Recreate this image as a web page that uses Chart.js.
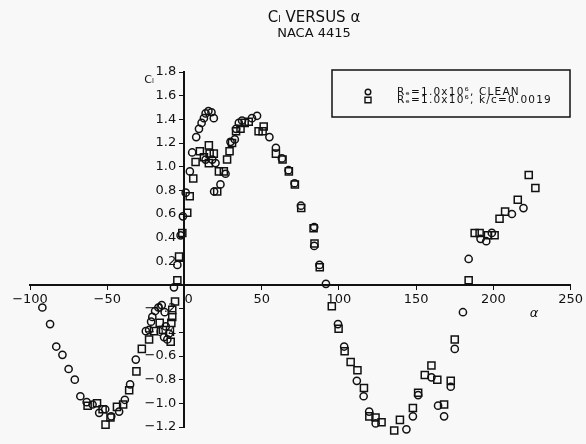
<!DOCTYPE html>
<html>
<head>
<meta charset="utf-8">
<script src="https://cdn.jsdelivr.net/npm/chart.js@4/dist/chart.umd.min.js"></script>
<style>
  html, body { margin: 0; padding: 0; background: #f8f8f8; }
  #wrap { width: 586px; height: 444px; }
</style>
</head>
<body>
<div id="wrap"><canvas id="c" width="586" height="444"></canvas></div>
<script>
// Lift coefficient vs. angle of attack, NACA 4415
const titleText = 'Cₗ VERSUS α';
const subtitleText = 'NACA 4415';
const xAxisTitle = 'α';
const yAxisTitle = 'Cₗ';
const seriesLabels = ['Rₑ=1.0x10⁶, CLEAN', 'Rₑ=1.0x10⁶, k/c=0.0019'];

const xTicks = [-100, -50, 0, 50, 100, 150, 200, 250];
const yTicks = [-1.2, -1.0, -0.8, -0.6, -0.4, -0.2, 0, 0.2, 0.4, 0.6, 0.8, 1.0, 1.2, 1.4, 1.6, 1.8];

// Clean airfoil
const cleanAlpha = [-92, -87, -83, -79, -75, -71, -67.4, -63.3, -59.5, -55.2, -51.3, -47.4, -42.3, -38.6, -35.2, -31.5,
  -25, -22.9, -21.6, -20.8, -19, -16.9, -14.7, -12.8, -12.1, -13.2, -11.1, -10, -6.8,
  -4.6, -2.5, -1, 0.8, 3.5, 5, 7.6, 9.4, 11.1, 12.6, 13.7, 15.5, 17.5, 19, 13.7, 18, 20.1, 19.2, 23.3, 26.6,
  29.8, 32.6, 33.4, 35.2, 37.3, 43.7, 47, 55, 59.2, 63.1, 67.4, 71.3, 75.4, 84, 84, 87.4, 91.6,
  99.4, 103.4, 111.6, 116, 119.6, 123.8, 127.6, 135.8, 139.5, 143.7, 143.7, 147.9, 151.3, 159.9, 164.2, 168.1, 172.4, 175,
  180.3, 184, 191.7, 195.4, 199, 212, 219.5];
const cleanCl = [-0.19, -0.33, -0.52, -0.59, -0.71, -0.80, -0.94, -0.99, -1.01, -1.08, -1.05, -1.11, -1.07, -0.97, -0.84, -0.63,
  -0.39, -0.38, -0.31, -0.27, -0.22, -0.19, -0.17, -0.23, -0.35, -0.44, -0.46, -0.41, -0.02,
  0.17, 0.42, 0.58, 0.78, 0.96, 1.12, 1.25, 1.32, 1.37, 1.41, 1.45, 1.47, 1.46, 1.41, 1.06, 1.06, 1.03, 0.79, 0.85, 0.94,
  1.21, 1.23, 1.32, 1.37, 1.39, 1.41, 1.43, 1.25, 1.16, 1.07, 0.97, 0.86, 0.67, 0.49, 0.33, 0.17, 0.01,
  -0.33, -0.52, -0.81, -0.94, -1.07, -1.17, -1.28, -1.25, -1.30, -1.22, -1.28, -1.11, -0.93, -0.78, -1.02, -1.11, -0.86, -0.54,
  -0.23, 0.22, 0.39, 0.37, 0.44, 0.60, 0.65];

// Roughened leading edge
const roughAlpha = [-62.7, -56.6, -53, -51.1, -47.9, -43.7, -39.7, -35.8, -31.1, -27.6, -22.9, -19.7, -16, -13.9, -8.9, -8.5, -7.9, -7.9, -6.1,
  -4.6, -3.5, -1.4, 1.8, 3.4, 5.7, 7.2, 10, 12.6, 15.8, 16.3, 19, 15.8, 21.2, 22.3, 25.5, 27.6, 29.2, 30.8, 33.4, 36.3, 39, 41.6,
  48, 50.6, 51.3, 59.2, 63.5, 67.6, 71.5, 75.6, 83.6, 84.2, 87.6, 95.4, 99.8, 103.7, 107.6, 112, 116.2, 119.7, 123.7, 127.6,
  130.9, 135.8, 139.5, 147.9, 151.3, 155.6, 159.9, 163.7, 168.1, 172.4, 175, 184, 187.9, 191.1, 196.5, 200.8, 204, 207.6, 215.8, 222.9, 227.2];
const roughCl = [-1.02, -1.0, -1.05, -1.18, -1.12, -1.03, -1.01, -0.89, -0.73, -0.54, -0.46, -0.39, -0.32, -0.38, -0.48, -0.32, -0.27, -0.21, -0.14,
  0.04, 0.24, 0.44, 0.61, 0.75, 0.90, 1.04, 1.13, 1.08, 1.18, 1.11, 1.11, 1.03, 0.79, 0.96, 0.96, 1.06, 1.13, 1.20, 1.30, 1.32, 1.37, 1.38,
  1.30, 1.30, 1.34, 1.11, 1.06, 0.96, 0.85, 0.65, 0.48, 0.35, 0.15, -0.18, -0.37, -0.56, -0.65, -0.72, -0.87, -1.11, -1.12, -1.16,
  -1.28, -1.23, -1.14, -1.04, -0.91, -0.76, -0.68, -0.80, -1.01, -0.81, -0.46, 0.04, 0.44, 0.44, 0.42, 0.42, 0.56, 0.62, 0.72, 0.93, 0.82];

const toPoints = (xs, ys) => xs.map((x, i) => ({ x: x, y: ys[i] }));
const INK = '#111';
const FONT = 'DejaVu Sans';
const fmtMinus = s => s.replace('-', '\u2212');

// Titles, axis symbols and the boxed legend
const decorations = {
  id: 'decorations',
  afterDraw(chart) {
    const ctx = chart.ctx;
    ctx.save();
    ctx.fillStyle = INK;
    ctx.textAlign = 'center';
    ctx.textBaseline = 'middle';
    ctx.font = '15px "' + FONT + '"';
    ctx.fillText(titleText, 314, 18);
    ctx.font = '13px "' + FONT + '"';
    ctx.fillText(subtitleText, 314, 34);

    ctx.font = '11px "' + FONT + '"';
    ctx.fillText(yAxisTitle, 149, 80);
    ctx.font = 'italic 13px "' + FONT + '"';
    ctx.fillText(xAxisTitle, 534, 314);

    // legend box
    const bx = 332, by = 70, bw = 238, bh = 47;
    ctx.strokeStyle = INK;
    ctx.lineWidth = 1.5;
    ctx.strokeRect(bx, by, bw, bh);
    ctx.textAlign = 'left';
    ctx.font = '10.5px "' + FONT + '"';
    ctx.letterSpacing = '1.2px';
    chart.data.datasets.forEach((ds, i) => {
      const y = 92 + i * 8;
      ctx.lineWidth = 1.4;
      ctx.beginPath();
      if (ds.pointStyle === 'rect') {
        ctx.rect(365, y - 2.7, 6, 5.4);
      } else {
        ctx.arc(368, y, 2.8, 0, Math.PI * 2);
      }
      ctx.stroke();
      ctx.fillText(ds.label, 397, y);
    });
    ctx.restore();
  }
};

new Chart(document.getElementById('c'), {
  type: 'scatter',
  data: {
    datasets: [
      {
        label: seriesLabels[0],
        data: toPoints(cleanAlpha, cleanCl),
        pointStyle: 'circle',
        pointRadius: 3.6,
        pointBorderWidth: 1.5,
        borderColor: INK,
        backgroundColor: 'rgba(0,0,0,0)',
        clip: false
      },
      {
        label: seriesLabels[1],
        data: toPoints(roughAlpha, roughCl),
        pointStyle: 'rect',
        pointRadius: 5,
        pointBorderWidth: 1.5,
        borderColor: INK,
        backgroundColor: 'rgba(0,0,0,0)',
        clip: false
      }
    ]
  },
  options: {
    responsive: false,
    animation: false,
    devicePixelRatio: 1,
    layout: { padding: { left: 30, right: 14, top: 72, bottom: 17 } },
    plugins: { legend: { display: false }, title: { display: false }, tooltip: { enabled: false } },
    scales: {
      x: {
        type: 'linear',
        min: -100, max: 250,
        position: { y: 0 },
        afterFit: s => { s.height = 0; },
        afterBuildTicks: s => { s.ticks = xTicks.map(v => ({ value: v })); },
        border: { display: true, color: INK, width: 2 },
        grid: { drawOnChartArea: false, drawTicks: true, tickLength: 4, color: INK, lineWidth: 1 },
        ticks: {
          color: INK,
          padding: 3,
          maxRotation: 0,
          font: { family: FONT, size: 13 },
          callback: v => v === 0 ? '\u20070' : fmtMinus(String(v))
        }
      },
      y: {
        type: 'linear',
        min: -1.2, max: 1.8,
        position: { x: 0 },
        afterFit: s => { s.width = 0; },
        afterBuildTicks: s => { s.ticks = yTicks.map(v => ({ value: v })); },
        border: { display: true, color: INK, width: 2 },
        grid: { drawOnChartArea: false, drawTicks: true, tickLength: 4, color: INK, lineWidth: 1 },
        ticks: {
          color: INK,
          padding: 3,
          font: { family: FONT, size: 13 },
          callback: v => Math.abs(v) < 1e-9 ? '' : fmtMinus(v.toFixed(1)) + '\u2007'
        }
      }
    }
  },
  plugins: [decorations]
});
</script>
</body>
</html>
